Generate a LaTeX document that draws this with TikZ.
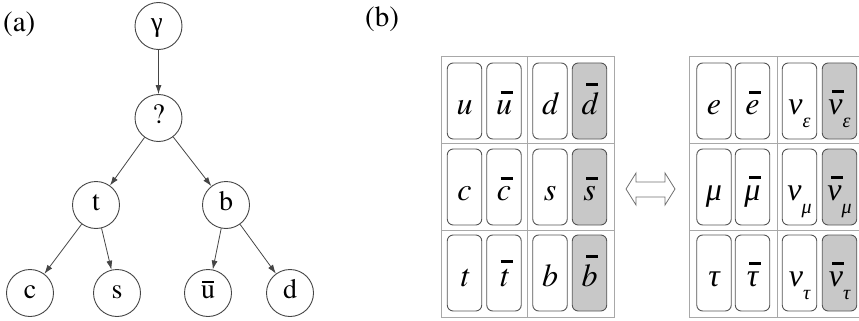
\documentclass[tikz,border=0pt]{standalone}
\usepackage{fontspec}
\newfontfamily\tnr{Liberation Serif}
\newfontfamily\tgt{texgyretermes-regular.otf}
\newfontfamily\tgi{texgyretermes-italic.otf}
\usetikzlibrary{arrows.meta}
\definecolor{edgegray}{HTML}{454545}
\definecolor{gridgray}{HTML}{A8A8A8}
\definecolor{boxline}{HTML}{555555}
\definecolor{boxgray}{HTML}{C8C8C8}
\definecolor{arrgray}{HTML}{707070}
% Greek italic letters (Liberation Serif Italic)
\newcommand{\gk}[1]{{\tnr\itshape #1}}
% bar over content: #1 width, #2 thickness, #3 right shift, #4 gap, #5 content
\newcommand{\ovlbar}[5]{\setbox0\hbox{#5}\leavevmode\vbox{\offinterlineskip\hbox to\wd0{\hss\kern#3\vrule width #1 height #2\hss}\kern#4\box0}}
\newcommand{\tb}[1]{\ovlbar{12pt}{3pt}{5pt}{6pt}{#1}}
\newcommand{\subeps}[1]{\raisebox{-13pt}{\fontsize{20}{20}\selectfont\gk{#1}}}
\tikzset{
  tnode/.style={circle, draw=edgegray, line width=0.9pt, minimum size=47pt, inner sep=0pt,
    text height=17pt, text depth=6pt, font=\tgt\fontsize{28}{28}\selectfont},
  edge/.style={draw=edgegray, line width=0.8pt, -{Latex[length=9pt,width=6pt]}},
  pbox/.style={draw=boxline, line width=0.9pt, rounded corners=6pt, fill=white,
    minimum width=34.5pt, minimum height=76pt, inner sep=0pt,
    text height=30pt, text depth=4pt, font=\tgi\fontsize{32}{32}\selectfont},
  abox/.style={pbox, fill=boxgray},
  grid/.style={draw=gridgray, line width=0.9pt},
  plabel/.style={anchor=base west, inner sep=0pt, font=\tgt\fontsize{29}{29}\selectfont}
}
\begin{document}
\begin{tikzpicture}[x=1pt, y=-1pt]
\useasboundingbox (0,0) rectangle (859,321);
\clip (0,0) rectangle (859,321);
% ---------------- (a)
\node[plabel] (la) at (3,32) {(a)};
\node[tnode] (g) at (158.5,26) {{\tnr\itshape\addfontfeature{FakeSlant=-0.2}γ}};
\node[tnode] (q) at (158.5,118) {?};
\node[tnode] (t) at (96,205) {t};
\node[tnode] (b) at (226,205) {b};
\node[tnode] (c) at (30,293) {c};
\node[tnode] (s) at (117,293) {s};
\node[tnode] (ub) at (208,293) {\ovlbar{12pt}{1.6pt}{0pt}{3pt}{u}};
\node[tnode] (d) at (290,293) {d};
\draw[edge] (g) -- (q);
\draw[edge] (q) -- (t);
\draw[edge] (q) -- (b);
\draw[edge] (t) -- (c);
\draw[edge] (t) -- (s);
\draw[edge] (b) -- (ub);
\draw[edge] (b) -- (d);
% ---------------- (b)
\node[plabel] (lb) at (365,27) {(b)};
% left table
\draw[grid] (441.5,56.5) rectangle (614,317);
\draw[grid] (527,56.5) -- (527,317);
\draw[grid] (441.5,143.5) -- (614,143.5);
\draw[grid] (441.5,230) -- (614,230);
\node[pbox] (qu) at (464.5,101) {u};
\node[pbox] (qub) at (504,101) {\tb{u}};
\node[pbox] (qd) at (550,101) {d};
\node[abox] (qdb) at (589.5,101) {\tb{d}};
\node[pbox] (qc) at (464.5,187) {c};
\node[pbox] (qcb) at (504,187) {\tb{c}};
\node[pbox] (qs) at (550,187) {s};
\node[abox] (qsb) at (589.5,187) {\tb{s}};
\node[pbox] (qt) at (464.5,273) {t};
\node[pbox] (qtb) at (504,273) {\tb{t}};
\node[pbox] (qb) at (550,273) {b};
\node[abox] (qbb) at (589.5,273) {\tb{b}};
% double arrow
\draw[draw=arrgray, line width=0.8pt, line join=miter] (626,189) -- (636,173) -- (636,182) -- (665,182) -- (665,173) -- (675,189) -- (665,205) -- (665,197) -- (636,197) -- (636,205) -- cycle;
% right table
\draw[grid] (689,56.5) rectangle (875,317);
\draw[grid] (777,56.5) -- (777,317);
\draw[grid] (689,143.5) -- (875,143.5);
\draw[grid] (689,230) -- (875,230);
\node[pbox] (le) at (714,101) {e};
\node[pbox] (leb) at (752.5,101) {\tb{e}};
\node[pbox] (lne) at (799.5,101) {\gk{ν}\subeps{ε}};
\node[abox] (lneb) at (839.5,101) {\tb{\gk{ν}}\subeps{ε}};
\node[pbox] (lm) at (714,187) {\gk{μ}};
\node[pbox] (lmb) at (752.5,187) {\tb{\gk{μ}}};
\node[pbox] (lnm) at (799.5,187) {\gk{ν}\subeps{μ}};
\node[abox] (lnmb) at (839.5,187) {\tb{\gk{ν}}\subeps{μ}};
\node[pbox] (lt) at (714,273) {\gk{τ}};
\node[pbox] (ltb) at (752.5,273) {\tb{\gk{τ}}};
\node[pbox] (lnt) at (799.5,273) {\gk{ν}\subeps{τ}};
\node[abox] (lntb) at (839.5,273) {\tb{\gk{ν}}\subeps{τ}};
\end{tikzpicture}
\end{document}
